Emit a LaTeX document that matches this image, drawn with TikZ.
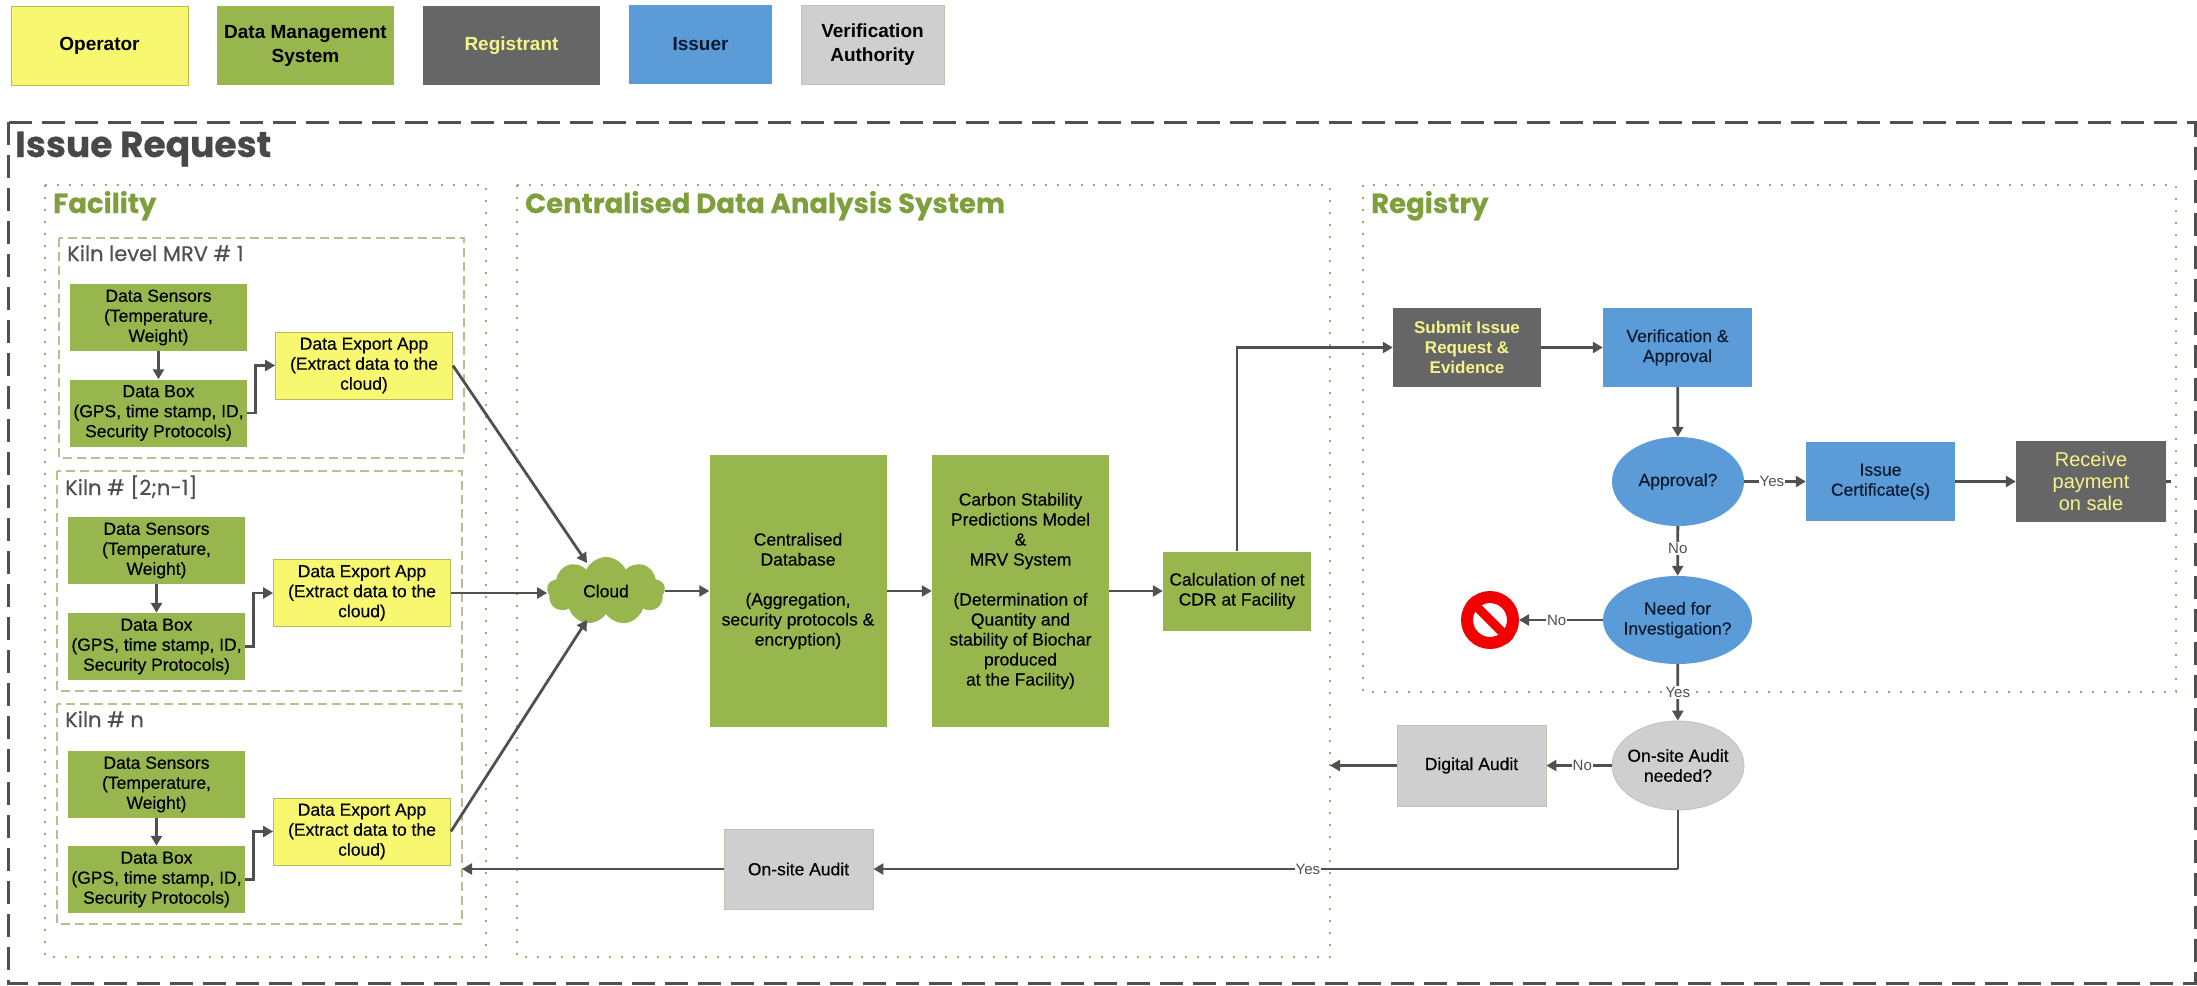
\documentclass[tikz,border=0pt]{standalone}
\usepackage{fontspec}
\setmainfont{Liberation Sans}
\newfontfamily\headfont{Poppins}
\usetikzlibrary{arrows.meta,shapes.geometric,shapes.symbols}
\definecolor{opyellow}{HTML}{F8F870}
\definecolor{dmsgreen}{HTML}{97B64E}
\definecolor{reggrey}{HTML}{666666}
\definecolor{issblue}{HTML}{5B9BD7}
\definecolor{verigrey}{HTML}{CFCFCF}
\definecolor{linegrey}{HTML}{505050}
\definecolor{titlegreen}{HTML}{7F9E3C}
\definecolor{dotolive}{HTML}{A3A56C}
\definecolor{dashgreen}{HTML}{B8BE90}
\definecolor{regtext}{HTML}{F4F48C}
\definecolor{isstext}{HTML}{0A1A30}
\tikzset{
  boxtext/.style={align=center,inner sep=0pt,font=\fontsize{17.5}{20}\selectfont\addfontfeature{FakeBold=0.25}},
  opbox/.style={boxtext,fill=opyellow,draw=opyellow!75!black,line width=0.8pt},
  dmsbox/.style={boxtext,fill=dmsgreen},
  regbox/.style={boxtext,fill=reggrey,text=regtext},
  issbox/.style={boxtext,fill=issblue,text=isstext},
  veribox/.style={boxtext,fill=verigrey,draw=verigrey!85!olive,line width=0.8pt},
  legendtext/.style={font=\fontsize{19}{24}\selectfont\bfseries},
  sensorbox/.style={dmsbox,minimum width=177pt,minimum height=67pt},
  appbox/.style={opbox,minimum width=177pt,minimum height=67pt},
  kilnframe/.style={draw=dashgreen,line width=1.5pt,dash pattern=on 9pt off 5pt},
  dotframe/.style={draw=dotolive,line width=2pt,dash pattern=on 2pt off 10pt},
  arrowline/.style={draw=linegrey,line width=2.8pt,-{Triangle[length=10pt,width=11pt]}},
  plainline/.style={draw=linegrey,line width=2.8pt},
  edgelabel/.style={fill=white,inner sep=1pt,text=linegrey,font=\fontsize{15}{16}\selectfont},
  paneltitle/.style={anchor=base west,inner sep=0pt,text=titlegreen,font=\headfont\bfseries\fontsize{27.5}{30}\selectfont\addfontfeature{FakeBold=0.4}},
  kilntitle/.style={anchor=base west,inner sep=0pt,text=linegrey,font=\headfont\fontsize{21}{24}\selectfont\addfontfeature{FakeBold=0.5}},
}
\begin{document}
\begin{tikzpicture}[x=1pt,y=-1pt]
\useasboundingbox (0,0) rectangle (2197,985);

% legend
\node[opbox,legendtext,minimum width=177pt,minimum height=79pt] (legendop) at (99.5,45.5) {Operator};
\node[dmsbox,legendtext,minimum width=177pt,minimum height=79pt] (legenddms) at (305.5,45.5) {Data Management\\System};
\node[regbox,legendtext,minimum width=177pt,minimum height=79pt] (legendreg) at (511.5,45.5) {Registrant};
\node[issbox,legendtext,minimum width=143pt,minimum height=79pt] (legendiss) at (700.5,44.5) {Issuer};
\node[veribox,legendtext,minimum width=143pt,minimum height=79pt] (legendver) at (872.5,44.5) {Verification\\Authority};

% frames
\draw[linegrey,line width=3pt,dash pattern=on 23pt off 10pt] (8,122) rectangle (2195,983);
\node[anchor=base west,inner sep=0pt,text=linegrey!90!black,font=\headfont\bfseries\fontsize{36}{40}\selectfont\addfontfeature{FakeBold=0.5}] (issuetitle) at (15,157) {Issue Request};

\draw[dotframe] (45,185) rectangle (486,957);
\draw[dotframe] (517,185) rectangle (1330,957);
\draw[dotframe] (1363,185) rectangle (2176,692);
\node[paneltitle] (facilitytitle) at (53,213) {Facility};
\node[paneltitle] (centraltitle) at (525,213) {Centralised Data Analysis System};
\node[paneltitle] (registrytitle) at (1371,213) {Registry};

\draw[kilnframe] (59,238) rectangle (464,458);
\draw[kilnframe] (57,471) rectangle (462,691);
\draw[kilnframe] (57,704) rectangle (462,924);
\node[kilntitle] (kilnAtitle) at (67,261) {Kiln level MRV \# 1};
\node[kilntitle] (kilnBtitle) at (65,495) {Kiln \# [2;n-1]};
\node[kilntitle] (kilnCtitle) at (65,727) {Kiln \# n};

% kilns
\node[sensorbox] (sensorsA) at (158.5,317.5) {Data Sensors\\(Temperature,\\Weight)};
\node[sensorbox] (boxA) at (158.5,413) {Data Box\\(GPS, time stamp, ID,\\Security Protocols)};
\node[appbox] (appA) at (364,365.5) {Data Export App\\(Extract data to the\\cloud)};

\node[sensorbox] (sensorsB) at (156.5,550.5) {Data Sensors\\(Temperature,\\Weight)};
\node[sensorbox] (boxB) at (156.5,646.5) {Data Box\\(GPS, time stamp, ID,\\Security Protocols)};
\node[appbox] (appB) at (362,593) {Data Export App\\(Extract data to the\\cloud)};

\node[sensorbox] (sensorsC) at (156.5,784.5) {Data Sensors\\(Temperature,\\Weight)};
\node[sensorbox] (boxC) at (156.5,879.5) {Data Box\\(GPS, time stamp, ID,\\Security Protocols)};
\node[appbox] (appC) at (362,831.5) {Data Export App\\(Extract data to the\\cloud)};

% centre
\node[cloud,cloud puffs=9,cloud puff arc=130,aspect=1.7,fill=dmsgreen,inner sep=0pt,minimum width=118pt,minimum height=68pt,font=\fontsize{17.5}{20}\selectfont\addfontfeature{FakeBold=0.25}] (cloud) at (606,591) {Cloud};
\node[dmsbox,minimum width=177pt,minimum height=272pt] (database) at (798,591) {Centralised\\Database\\[20pt](Aggregation,\\security protocols \&\\encryption)};
\node[dmsbox,minimum width=177pt,minimum height=272pt] (model) at (1020.5,591) {Carbon Stability\\Predictions Model\\\&\\MRV System\\[20pt](Determination of\\Quantity and\\stability of Biochar\\produced\\at the Facility)};
\node[dmsbox,minimum width=148pt,minimum height=79pt] (calculation) at (1237,591) {Calculation of net\\CDR at Facility};
\node[veribox,minimum width=149pt,minimum height=80pt] (onsite) at (798.5,869) {On-site Audit};

% registry
\node[regbox,font=\fontsize{17}{20}\selectfont\bfseries,minimum width=148pt,minimum height=79pt] (submit) at (1467,347.5) {Submit Issue\\Request \&\\Evidence};
\node[issbox,minimum width=149pt,minimum height=79pt] (verify) at (1677.5,347.5) {Verification \&\\Approval};
\node[ellipse,issbox,minimum width=132pt,minimum height=89pt] (approval) at (1678,481.5) {Approval?};
\node[issbox,minimum width=149pt,minimum height=79pt] (certificate) at (1880.5,481.5) {Issue\\Certificate(s)};
\node[regbox,font=\fontsize{20}{22}\selectfont,minimum width=150pt,minimum height=81pt] (payment) at (2091,481.5) {Receive\\payment\\on sale};
\node[ellipse,issbox,inner sep=-3pt,minimum width=149pt,minimum height=88pt] (investigate) at (1677.5,620) {Need for\\Investigation?};
\node[circle,draw=red!95!black,fill=white,line width=12pt,minimum size=46pt,inner sep=0pt] (noentry) at (1490,620) {};
\draw[red!95!black,line width=9pt] (noentry.135) -- (noentry.315);
\node[ellipse,veribox,inner sep=-5pt,minimum width=132pt,minimum height=89pt] (audited) at (1678,765.5) {On-site Audit\\needed?};
\node[veribox,minimum width=149pt,minimum height=81pt] (digital) at (1471.5,765.5) {Digital Audit};

% free ends
\coordinate (cloudA) at (587,563);
\coordinate (cloudC) at (587,620);
\coordinate (centreedge) at (1330,765.5);
\coordinate (kilnedge) at (462,869);
\coordinate (paymentstub) at (2171,481.5);
\coordinate (yescorner) at (1678,869);

% connectors
\draw[arrowline] (sensorsA) -- (boxA);
\draw[arrowline] (sensorsB) -- (boxB);
\draw[arrowline] (sensorsC) -- (boxC);
\draw[arrowline] (boxA.east) -- ++(8,0) |- (appA.west);
\draw[arrowline] (boxB.east) -- ++(8,0) |- (appB.west);
\draw[arrowline] (boxC.east) -- ++(8,0) |- (appC.west);
\draw[arrowline] (appA.east) -- (cloudA);
\draw[arrowline] (appB.east) -- (cloud.west |- appB.east);
\draw[arrowline] (appC.east) -- (cloudC);
\draw[arrowline] (cloud.east |- database.west) -- (database.west);
\draw[arrowline] (database) -- (model);
\draw[arrowline] (model.east) -- (calculation.west);
\draw[arrowline] (calculation.north) |- (submit.west);
\draw[arrowline] (submit) -- (verify);
\draw[arrowline] (verify) -- (approval);
\draw[arrowline] (approval) -- node[edgelabel,pos=0.45]{Yes} (certificate);
\draw[arrowline] (certificate) -- (payment);
\draw[plainline] (payment.east) -- (paymentstub);
\draw[arrowline] (approval) -- node[edgelabel,pos=0.45]{No} (investigate);
\draw[arrowline] (investigate) -- node[edgelabel,pos=0.55]{No} (noentry);
\draw[arrowline] (investigate) -- node[edgelabel,pos=0.5]{Yes} (audited);
\draw[arrowline] (audited) -- node[edgelabel,pos=0.45]{No} (digital);
\draw[arrowline] (digital) -- (centreedge);
\draw[plainline] (audited) -- (yescorner);
\draw[arrowline] (yescorner) -- node[edgelabel,pos=0.46]{Yes} (onsite);
\draw[arrowline] (onsite) -- (kilnedge);
\end{tikzpicture}
\end{document}
